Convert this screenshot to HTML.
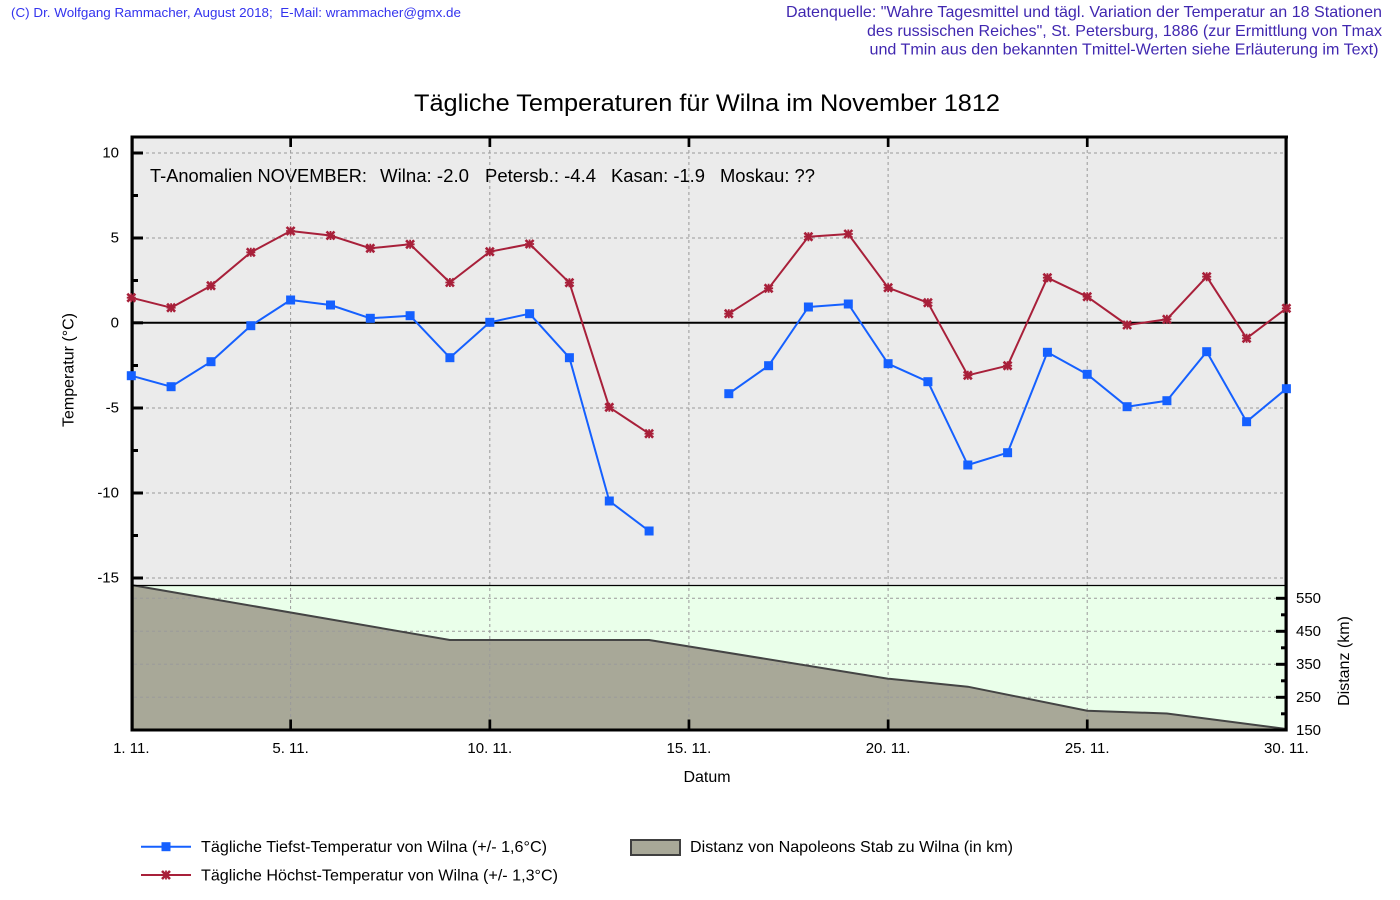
<!DOCTYPE html>
<html><head><meta charset="utf-8"><style>
html,body{margin:0;padding:0;background:#fff;}
svg{display:block;}
text{font-family:"Liberation Sans",Arial,sans-serif;}
</style></head><body>
<svg width="1400" height="900" viewBox="0 0 1400 900" xmlns="http://www.w3.org/2000/svg">
<defs>
<g id="rm"><path d="M-4,-4L4,4M-4,4L4,-4" stroke="#a8203a" stroke-width="2.6"/><path d="M-4.5,0H4.5M0,-4.5V4.5" stroke="#a8203a" stroke-width="1.8"/></g>
<rect id="bm" x="-4.5" y="-4.5" width="9" height="9" fill="#1560ff"/>
</defs>
<rect width="1400" height="900" fill="#fff"/>
<!-- header texts -->
<text x="11" y="17" font-size="13" fill="#3333ee" textLength="450" lengthAdjust="spacingAndGlyphs" style="white-space:pre">(C) Dr. Wolfgang Rammacher, August 2018;  E-Mail: wrammacher@gmx.de</text>
<text x="786" y="17" font-size="16" fill="#4027b0" textLength="596" lengthAdjust="spacingAndGlyphs">Datenquelle: "Wahre Tagesmittel und tägl. Variation der Temperatur an 18 Stationen</text>
<text x="867" y="36" font-size="16" fill="#4027b0" textLength="515" lengthAdjust="spacingAndGlyphs">des russischen Reiches", St. Petersburg, 1886 (zur Ermittlung von Tmax</text>
<text x="869.5" y="54.5" font-size="16" fill="#4027b0" textLength="509" lengthAdjust="spacingAndGlyphs">und Tmin aus den bekannten Tmittel-Werten siehe Erläuterung im Text)</text>
<text x="414" y="111" font-size="24" fill="#000" textLength="586" lengthAdjust="spacingAndGlyphs">Tägliche Temperaturen für Wilna im November 1812</text>

<!-- backgrounds -->
<rect x="131" y="136" width="1155" height="449" fill="#ebebeb"/>
<rect x="131" y="585" width="1155" height="145" fill="#eaffea"/>
<!-- distance fill -->
<polygon points="131.3,585 449.9,640 649.1,640 888.1,678.7 967.8,686.7 1087.2,710.7 1166.9,713.5 1286.4,729 1286.4,730 131.3,730" fill="#a8a898"/>

<!-- gridlines -->
<g stroke="#9a9a9a" stroke-width="1" stroke-dasharray="3,3" fill="none">
<path d="M290.6,138V729M489.8,138V729M688.9,138V729M888.1,138V729M1087.2,138V729"/>
<path d="M134,153H1284M134,238H1284M134,408H1284M134,493H1284M134,578H1284"/>
<path d="M134,598.3H1284M134,631.3H1284M134,664.3H1284M134,697.3H1284"/>
</g>
<!-- distance line -->
<polyline points="131.3,585 449.9,640 649.1,640 888.1,678.7 967.8,686.7 1087.2,710.7 1166.9,713.5 1286.4,729" fill="none" stroke="#444" stroke-width="2"/>
<!-- panel boundary -->
<line x1="131" y1="585.5" x2="1286" y2="585.5" stroke="#000" stroke-width="1.2"/>
<!-- zero line -->
<line x1="133" y1="322.8" x2="1285" y2="322.8" stroke="#000" stroke-width="2"/>

<!-- axes frame -->
<g fill="#000">
<rect x="131" y="135.5" width="1157" height="3"/>
<rect x="130.5" y="135.5" width="3.2" height="596"/>
<rect x="1284.5" y="135.5" width="3.2" height="596"/>
<rect x="130.5" y="728.5" width="1157" height="3"/>
<!-- top ticks -->
<rect x="289.3" y="138" width="2.7" height="9"/><rect x="488.5" y="138" width="2.7" height="9"/><rect x="687.6" y="138" width="2.7" height="9"/><rect x="886.8" y="138" width="2.7" height="9"/><rect x="1085.9" y="138" width="2.7" height="9"/>
<!-- bottom ticks -->
<rect x="289.3" y="719.5" width="2.7" height="10"/><rect x="488.5" y="719.5" width="2.7" height="10"/><rect x="687.6" y="719.5" width="2.7" height="10"/><rect x="886.8" y="719.5" width="2.7" height="10"/><rect x="1085.9" y="719.5" width="2.7" height="10"/>
<!-- left major ticks -->
<rect x="133" y="151.5" width="10" height="3"/><rect x="133" y="236.5" width="10" height="3"/><rect x="133" y="321.3" width="10" height="3"/><rect x="133" y="406.5" width="10" height="3"/><rect x="133" y="491.5" width="10" height="3"/><rect x="133" y="576.5" width="10" height="3"/>
<!-- left minor ticks -->
<rect x="133" y="194" width="5" height="3"/><rect x="133" y="279" width="5" height="3"/><rect x="133" y="364" width="5" height="3"/><rect x="133" y="449" width="5" height="3"/><rect x="133" y="534" width="5" height="3"/>
<!-- right major ticks -->
<rect x="1276" y="596.8" width="9" height="3"/><rect x="1276" y="629.8" width="9" height="3"/><rect x="1276" y="662.8" width="9" height="3"/><rect x="1276" y="695.8" width="9" height="3"/>
<!-- right minor ticks -->
<rect x="1281" y="613.3" width="4" height="3"/><rect x="1281" y="646.3" width="4" height="3"/><rect x="1281" y="679.3" width="4" height="3"/><rect x="1281" y="712.3" width="4" height="3"/>
</g>

<!-- anomaly text -->
<g font-size="18" fill="#000">
<text x="150" y="182" textLength="217" lengthAdjust="spacingAndGlyphs">T-Anomalien NOVEMBER:</text>
<text x="380" y="182" textLength="89" lengthAdjust="spacingAndGlyphs">Wilna: -2.0</text>
<text x="485" y="182" textLength="111" lengthAdjust="spacingAndGlyphs">Petersb.: -4.4</text>
<text x="611" y="182" textLength="94" lengthAdjust="spacingAndGlyphs">Kasan: -1.9</text>
<text x="720" y="182" textLength="95" lengthAdjust="spacingAndGlyphs">Moskau: ??</text>
</g>

<!-- series lines -->
<g fill="none" stroke-width="2" stroke-linejoin="round">
<polyline stroke="#a8203a" points="131.3,297.7 171.1,307.7 211,285.7 250.8,252.3 290.6,231 330.5,235.5 370.3,248.3 410.1,244.3 449.9,282.5 489.8,251.7 529.6,244 569.4,282.7 609.3,407.3 649.1,433.7"/>
<polyline stroke="#a8203a" points="728.8,313.7 768.6,288.3 808.4,236.7 848.3,234 888.1,287.7 927.9,302.7 967.8,375.3 1007.6,365.7 1047.4,277.7 1087.2,296.7 1127.1,325 1166.9,319.3 1206.7,276.7 1246.6,338.3 1286.4,308.3"/>
<polyline stroke="#1560ff" points="131.3,375.7 171.1,386.7 211,361.7 250.8,325.7 290.6,300 330.5,305 370.3,318.3 410.1,315.7 449.9,357.7 489.8,322.3 529.6,313.7 569.4,357.7 609.3,501 649.1,531"/>
<polyline stroke="#1560ff" points="728.8,393.7 768.6,365.7 808.4,307 848.3,304 888.1,363.7 927.9,381.7 967.8,465 1007.6,452.7 1047.4,352.3 1087.2,374.3 1127.1,406.7 1166.9,400.7 1206.7,351.7 1246.6,421.7 1286.4,388.7"/>
</g>
<!-- red markers -->
<g>
<use href="#rm" x="131.3" y="297.7"/><use href="#rm" x="171.1" y="307.7"/><use href="#rm" x="211" y="285.7"/><use href="#rm" x="250.8" y="252.3"/><use href="#rm" x="290.6" y="231"/><use href="#rm" x="330.5" y="235.5"/><use href="#rm" x="370.3" y="248.3"/><use href="#rm" x="410.1" y="244.3"/><use href="#rm" x="449.9" y="282.5"/><use href="#rm" x="489.8" y="251.7"/><use href="#rm" x="529.6" y="244"/><use href="#rm" x="569.4" y="282.7"/><use href="#rm" x="609.3" y="407.3"/><use href="#rm" x="649.1" y="433.7"/>
<use href="#rm" x="728.8" y="313.7"/><use href="#rm" x="768.6" y="288.3"/><use href="#rm" x="808.4" y="236.7"/><use href="#rm" x="848.3" y="234"/><use href="#rm" x="888.1" y="287.7"/><use href="#rm" x="927.9" y="302.7"/><use href="#rm" x="967.8" y="375.3"/><use href="#rm" x="1007.6" y="365.7"/><use href="#rm" x="1047.4" y="277.7"/><use href="#rm" x="1087.2" y="296.7"/><use href="#rm" x="1127.1" y="325"/><use href="#rm" x="1166.9" y="319.3"/><use href="#rm" x="1206.7" y="276.7"/><use href="#rm" x="1246.6" y="338.3"/><use href="#rm" x="1286.4" y="308.3"/>
</g>
<!-- blue markers -->
<g>
<use href="#bm" x="131.3" y="375.7"/><use href="#bm" x="171.1" y="386.7"/><use href="#bm" x="211" y="361.7"/><use href="#bm" x="250.8" y="325.7"/><use href="#bm" x="290.6" y="300"/><use href="#bm" x="330.5" y="305"/><use href="#bm" x="370.3" y="318.3"/><use href="#bm" x="410.1" y="315.7"/><use href="#bm" x="449.9" y="357.7"/><use href="#bm" x="489.8" y="322.3"/><use href="#bm" x="529.6" y="313.7"/><use href="#bm" x="569.4" y="357.7"/><use href="#bm" x="609.3" y="501"/><use href="#bm" x="649.1" y="531"/>
<use href="#bm" x="728.8" y="393.7"/><use href="#bm" x="768.6" y="365.7"/><use href="#bm" x="808.4" y="307"/><use href="#bm" x="848.3" y="304"/><use href="#bm" x="888.1" y="363.7"/><use href="#bm" x="927.9" y="381.7"/><use href="#bm" x="967.8" y="465"/><use href="#bm" x="1007.6" y="452.7"/><use href="#bm" x="1047.4" y="352.3"/><use href="#bm" x="1087.2" y="374.3"/><use href="#bm" x="1127.1" y="406.7"/><use href="#bm" x="1166.9" y="400.7"/><use href="#bm" x="1206.7" y="351.7"/><use href="#bm" x="1246.6" y="421.7"/><use href="#bm" x="1286.4" y="388.7"/>
</g>

<!-- y tick labels -->
<g font-size="15" fill="#000" text-anchor="end">
<text x="119" y="157.5">10</text>
<text x="119" y="242.5">5</text>
<text x="119" y="327.3">0</text>
<text x="119" y="412.5">-5</text>
<text x="119" y="497.5">-10</text>
<text x="119" y="582.5">-15</text>
</g>
<!-- right tick labels -->
<g font-size="15" fill="#000">
<text x="1296" y="602.8">550</text>
<text x="1296" y="635.8">450</text>
<text x="1296" y="668.8">350</text>
<text x="1296" y="701.8">250</text>
<text x="1296" y="734.8">150</text>
</g>
<!-- x tick labels -->
<g font-size="15" fill="#000" text-anchor="middle">
<text x="131.3" y="753">1. 11.</text>
<text x="290.6" y="753">5. 11.</text>
<text x="489.8" y="753">10. 11.</text>
<text x="688.9" y="753">15. 11.</text>
<text x="888.1" y="753">20. 11.</text>
<text x="1087.2" y="753">25. 11.</text>
<text x="1286.4" y="753">30. 11.</text>
</g>
<text x="707" y="782" font-size="16" text-anchor="middle" fill="#000">Datum</text>
<text transform="translate(73.5,370) rotate(-90)" font-size="16" text-anchor="middle" fill="#000">Temperatur (°C)</text>
<text transform="translate(1349,661) rotate(-90)" font-size="16" text-anchor="middle" fill="#000">Distanz (km)</text>

<!-- legend -->
<line x1="141" y1="846.7" x2="191" y2="846.7" stroke="#1560ff" stroke-width="2"/>
<use href="#bm" x="166" y="846.7"/>
<text x="201" y="852" font-size="16" fill="#000" textLength="346" lengthAdjust="spacingAndGlyphs">Tägliche Tiefst-Temperatur von Wilna (+/- 1,6°C)</text>
<line x1="141" y1="875" x2="191" y2="875" stroke="#a8203a" stroke-width="2"/>
<use href="#rm" x="166" y="875"/>
<text x="201" y="880.5" font-size="16" fill="#000" textLength="357" lengthAdjust="spacingAndGlyphs">Tägliche Höchst-Temperatur von Wilna (+/- 1,3°C)</text>
<rect x="631" y="840" width="49" height="15" fill="#a8a898" stroke="#404040" stroke-width="2"/>
<text x="690" y="852" font-size="16" fill="#000" textLength="323" lengthAdjust="spacingAndGlyphs">Distanz von Napoleons Stab zu Wilna (in km)</text>
</svg>
</body></html>
